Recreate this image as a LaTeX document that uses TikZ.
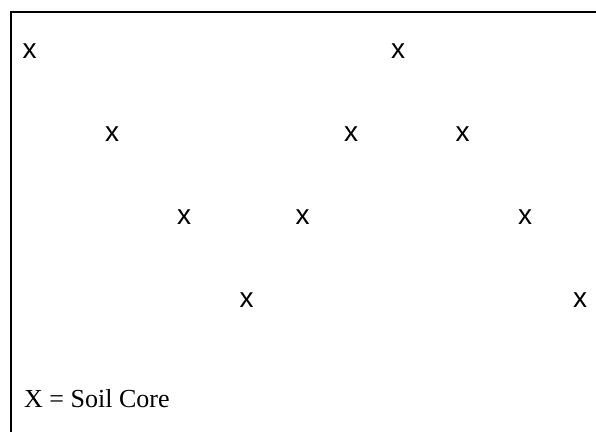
\documentclass[tikz,border=0pt]{standalone}
\usepackage{fontspec}
\setmainfont{Liberation Serif}
\newfontfamily\markfont{Liberation Sans}
\begin{document}
\begin{tikzpicture}[x=1pt,y=1pt,
  core/.style={inner sep=0pt,font=\markfont\fontsize{28}{30}\selectfont},
  legendtext/.style={inner sep=0pt,anchor=base west,font=\fontsize{26}{28}\selectfont},
  frameline/.style={line width=2pt,black}]
\useasboundingbox (0,0) rectangle (596,432);
% frame (top and left edges)
\coordinate (tl) at (11,420);
\coordinate (tr) at (596,420);
\coordinate (bl) at (11,0);
\draw[frameline] (tr) -- (tl) -- (bl);
% soil cores (y = 432 - pixel row)
\node[core] (c11) at (29.5,381) {x};
\node[core] (c12) at (398,381) {x};
\node[core] (c21) at (112,297.5) {x};
\node[core] (c22) at (351,297.5) {x};
\node[core] (c23) at (462.5,297.5) {x};
\node[core] (c31) at (184,215) {x};
\node[core] (c32) at (302.5,215) {x};
\node[core] (c33) at (525,215) {x};
\node[core] (c41) at (246.7,132) {x};
\node[core] (c42) at (580,132) {x};
% legend
\node[legendtext] (legend) at (24,25) {X = Soil Core};
\end{tikzpicture}
\end{document}
